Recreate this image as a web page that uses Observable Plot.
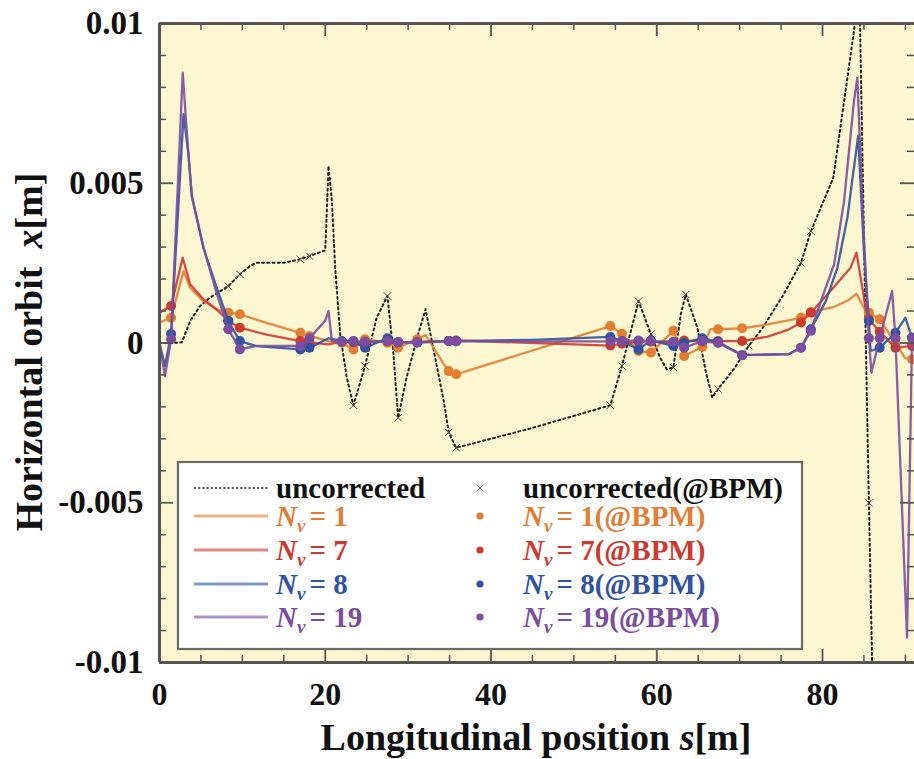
<!DOCTYPE html>
<html><head><meta charset="utf-8">
<script src="https://cdn.jsdelivr.net/npm/d3@7"></script>
<script src="https://cdn.jsdelivr.net/npm/@observablehq/plot@0.6"></script>
<style>html,body{margin:0;padding:0;background:#fff}#chart svg{display:block}</style>
</head><body><div id="chart"></div>
<script>
// ---- data (s in m, orbit values in mm) ----
const uncS = [0,1.4,2.7,3.7,4.9,6.1,8.3,9.7,10.9,11.7,15.0,17.0,18.1,20.0,20.4,20.8,21.2,21.8,22.6,23.4,24.8,26.2,27.5,28.2,28.8,29.8,31.1,32.1,33.1,34.3,34.9,35.8,44.7,54.4,55.8,57.8,59.3,60.4,61.2,62.0,62.9,63.5,64.9,65.9,66.7,67.4,69.3,71.1,72.7,75.3,77.4,78.6,81.3,83.0,83.8,84.2,84.5,85.4,85.6,86.0,86.4];
const uncX = [0,0,0.02,0.69,1.16,1.42,1.78,2.15,2.41,2.51,2.51,2.62,2.72,2.9,5.54,4.44,2.36,0.28,-1.09,-1.95,-0.72,0.79,1.47,-0.25,-2.34,-1.09,0.17,1.06,-0.25,-1.82,-2.8,-3.28,-2.68,-1.95,-0.72,1.31,0.28,-0.46,-0.82,-0.77,0.9,1.52,0.48,-0.88,-1.71,-1.44,-0.82,-0.09,0.44,1.52,2.51,3.5,5.17,8.3,9.77,10.8,10.4,-2.4,-5.0,-10.2,-13];
const uncBpmS = [8.3,9.7,17.0,18.1,23.4,24.8,27.5,28.8,34.9,35.8,54.4,55.8,57.8,59.3,62.0,63.5,67.4,71.1,77.4,78.6,85.6];
const uncBpmX = [1.78,2.15,2.62,2.72,-1.95,-0.72,1.47,-2.34,-2.8,-3.28,-1.95,-0.72,1.31,0.28,-0.77,1.52,-1.44,-0.09,2.51,3.5,-5.0];

const bpmS = [1.4,8.3,9.7,17.0,18.1,22.0,23.4,24.8,27.5,28.8,31.1,34.9,35.8,54.4,55.8,57.8,59.3,62.0,63.3,65.5,67.4,70.3,77.4,78.6,85.6,86.9,88.8,90.8];
const n1Bpm  = [0.79,0.95,0.90,0.32,0.22,0.01,-0.20,0.12,0.01,-0.15,0.12,-0.88,-0.98,0.53,0.29,-0.25,-0.30,0.38,-0.41,-0.12,0.43,0.46,0.79,0.97,0.95,0.74,0.0,-0.51];
const n7Bpm  = [1.16,0.69,0.48,0.06,0.01,0.04,0.02,0.03,0.06,0.02,0.04,0.06,0.08,-0.08,-0.02,0.04,0.04,0.02,0.08,0.05,0.06,0.06,0.64,0.95,0.74,0.35,-0.15,-0.09];
const n8Bpm  = [0.28,0.69,0.06,-0.20,-0.15,0.06,0.05,-0.15,0.15,0.02,0.01,0.06,0.06,0.19,0.06,-0.20,0.08,-0.09,0.0,0.15,0.04,-0.38,-0.15,0.43,0.69,-0.15,0.32,0.17];
const n19Bpm = [0.12,0.43,-0.20,-0.09,0.15,0.04,0.06,0.04,0.06,0.03,0.02,0.06,0.05,0.05,0.06,0.08,0.06,0.04,-0.15,0.06,0.0,-0.38,-0.15,0.38,0.15,0.15,0.15,0.15];

const n1LineS = [0,1.4,2.9,3.7,5.3,6.9,8.3,9.7,12.8,17.0,18.1,20.4,22.0,23.4,24.8,27.5,28.8,31.1,32.1,34.3,34.9,35.8,54.4,55.8,57.8,59.3,62.0,63.3,65.5,66.5,67.4,70.3,73.4,77.4,78.6,81.3,83.0,84.1,85.4,85.6,86.9,88.8,90.0,90.8,91.1];
const n1LineX = [0.64,0.79,2.25,1.73,1.31,1.05,0.95,0.90,0.64,0.32,0.22,0.06,0.01,-0.20,0.12,0.01,-0.15,0.12,0.25,-0.66,-0.88,-0.98,0.53,0.29,-0.25,-0.30,0.38,-0.41,-0.12,0.43,0.43,0.46,0.58,0.79,0.97,1.12,1.32,1.54,0.90,0.95,0.74,0.0,-0.48,-0.51,-0.51];
const n7LineS = [0,1.4,2.8,3.7,5.3,6.9,8.3,9.7,12.8,17.0,18.1,20.4,22.0,23.4,24.8,27.5,28.8,31.1,34.9,35.8,54.4,55.8,57.8,59.3,62.0,63.3,65.5,67.4,70.3,73.4,75.9,77.4,78.6,81.3,83.4,84.1,85.2,85.6,86.9,88.8,90.8,91.1];
const n7LineX = [0.95,1.16,2.67,1.84,1.37,1.05,0.69,0.48,0.27,0.06,0.01,-0.04,0.04,0.02,0.03,0.06,0.02,0.04,0.06,0.08,-0.08,-0.02,0.04,0.04,0.02,0.08,0.05,0.06,0.06,0.20,0.42,0.64,0.95,1.73,2.36,2.83,1.10,0.74,0.35,-0.15,-0.09,-0.09];
const n8LineS = [0,0.66,1.4,2.9,3.5,3.9,5.3,6.9,8.3,9.7,11.7,17.0,18.1,20.4,22.0,23.4,24.8,27.5,28.8,31.1,34.9,35.8,45.0,54.4,55.8,57.8,59.3,62.0,63.3,65.5,67.4,70.3,75.9,77.4,78.6,80.4,81.8,83.0,84.3,85.0,85.6,85.8,86.9,88.8,90.0,90.8,91.1];
const n8LineX = [0,-0.72,0.28,7.16,5.9,4.6,2.98,1.73,0.69,0.06,-0.1,-0.20,-0.15,0.15,0.06,0.05,-0.15,0.15,0.02,0.01,0.06,0.06,0.1,0.19,0.06,-0.20,0.08,-0.09,0.0,0.15,0.04,-0.38,-0.35,-0.15,0.43,1.31,2.36,3.92,6.48,2.88,0.69,-0.25,-0.15,0.32,0.79,0.17,0.06];
const n19LineS = [0,0.66,1.4,2.8,3.4,3.9,5.3,6.9,8.3,9.7,11.7,17.0,18.1,20.0,20.4,20.8,22.0,23.4,24.8,27.5,28.8,31.1,34.9,35.8,54.4,55.8,57.8,59.3,62.0,63.3,65.5,67.4,70.3,75.9,77.4,78.6,79.8,81.4,82.6,83.8,84.2,84.8,85.4,85.6,85.9,86.9,88.4,88.8,90.2,90.8,91.1];
const n19LineX = [0,-1.04,0.12,8.46,6.2,4.6,3.0,1.55,0.43,-0.20,-0.09,-0.09,0.15,0.7,1.0,0.06,0.04,0.06,0.04,0.06,0.03,0.02,0.06,0.05,0.05,0.06,0.08,0.06,0.04,-0.15,0.06,0.0,-0.38,-0.35,-0.15,0.38,1.31,2.46,4.44,7.57,8.3,4.44,1.1,0.15,-0.93,0.15,1.63,0.15,-9.22,0.15,0.15];

const seriesNames = ["1","7","8","19"];
const seriesColors = ["#e27d32","#cc3a30","#2f52a2","#7b4c9f"];

const xMajorTicks = [0,20,40,60,80];
const xMinorTicks = [5,10,15,25,30,35,45,50,55,65,70,75,85,90];
const yMajorTicks = [-10,-5,0,5,10];         // mm
const yMinorTicks = [-9,-8,-7,-6,-4,-3,-2,-1,1,2,3,4,6,7,8,9];
const yTickLabels = ["-0.01","-0.005","0","0.005","0.01"];

// ---- tables ----
const toRows = (S, X) => S.map((s, i) => ({s, x: X[i] * 1e-3}));
const unc = toRows(uncS, uncX);
const uncBpm = toRows(uncBpmS, uncBpmX);
const lines = [toRows(n1LineS, n1LineX), toRows(n7LineS, n7LineX), toRows(n8LineS, n8LineX), toRows(n19LineS, n19LineX)];
const bpms = [n1Bpm, n7Bpm, n8Bpm, n19Bpm].map(v => toRows(bpmS, v));
const yMaj = yMajorTicks.map(v => v * 1e-3), yMin = yMinorTicks.map(v => v * 1e-3);
const yLab = new Map(yMaj.map((v, i) => [v, yTickLabels[i]]));

const frameC = "#555";
const serieMarks = [];
lines.forEach((rows, k) => {
  serieMarks.push(Plot.line(rows, {x: "s", y: "x", stroke: seriesColors[k], strokeWidth: 2.3, strokeOpacity: 0.9, clip: true}));
  serieMarks.push(Plot.dot(bpms[k], {x: "s", y: "x", r: 5, fill: seriesColors[k], stroke: "none", clip: true}));
});

const chart = Plot.plot({
  width: 914, height: 759,
  marginLeft: 159, marginRight: 0, marginTop: 23, marginBottom: 97,
  x: {domain: [0, 91.1]},
  y: {domain: [-0.01, 0.01]},
  style: {fontFamily: "'Liberation Serif', 'DejaVu Serif', serif", background: "#fff", color: "#111"},
  marks: [
    Plot.frame({fill: "#fcf7d0", stroke: "none"}),
    Plot.line(unc, {x: "s", y: "x", stroke: "#222", strokeWidth: 2, strokeDasharray: "2,3.2", clip: true}),
    Plot.dot(uncBpm, {x: "s", y: "x", symbol: "times", r: 3.4, stroke: "#444", strokeWidth: 1, clip: true}),
    ...serieMarks,
    // frame lines
    Plot.ruleX([0], {stroke: frameC, strokeWidth: 3}),
    Plot.ruleY([0.01, -0.01], {stroke: frameC, strokeWidth: 3}),
    // inward ticks
    Plot.ruleX(xMinorTicks, {x: d => d, y1: -0.01, y2: -0.01, insetTop: -7, insetBottom: 0, stroke: frameC, strokeWidth: 1.5}),
    Plot.ruleX(xMajorTicks, {x: d => d, y1: -0.01, y2: -0.01, insetTop: -13, insetBottom: 0, stroke: frameC, strokeWidth: 1.8}),
    Plot.ruleX(xMinorTicks, {x: d => d, y1: 0.01, y2: 0.01, insetBottom: -7, insetTop: 0, stroke: frameC, strokeWidth: 1.5}),
    Plot.ruleX(xMajorTicks, {x: d => d, y1: 0.01, y2: 0.01, insetBottom: -13, insetTop: 0, stroke: frameC, strokeWidth: 1.8}),
    Plot.ruleY(yMin, {y: d => d, x1: 0, x2: 0, insetRight: -7, insetLeft: 0, stroke: frameC, strokeWidth: 1.5}),
    Plot.ruleY(yMaj, {y: d => d, x1: 0, x2: 0, insetRight: -14, insetLeft: 0, stroke: frameC, strokeWidth: 1.8}),
    Plot.ruleY(yMin, {y: d => d, x1: 91.1, x2: 91.1, insetLeft: -7, insetRight: 0, stroke: frameC, strokeWidth: 1.5}),
    Plot.ruleY(yMaj, {y: d => d, x1: 91.1, x2: 91.1, insetLeft: -14, insetRight: 0, stroke: frameC, strokeWidth: 1.8}),
    Plot.axisX({ticks: xMajorTicks, tickSize: 0, tickPadding: 20, fontSize: 32, fontWeight: "bold", label: null, fill: "#111"}),
    Plot.axisY({ticks: yMaj, tickFormat: d => yLab.get(d), tickSize: 0, tickPadding: 16, fontSize: 33, fontWeight: "bold", label: null, fill: "#111"})
  ]
});
document.getElementById("chart").appendChild(chart);

// ---- titles and legend (layout text) ----
const svg = d3.select(chart);
const ff = "'Liberation Serif', 'DejaVu Serif', serif";
// x title
const xt = svg.append("text").attr("x", 536).attr("y", 750).attr("text-anchor", "middle")
  .attr("font-family", ff).attr("font-size", 38).attr("font-weight", "bold").attr("fill", "#111");
xt.append("tspan").text("Longitudinal position ");
xt.append("tspan").attr("font-style", "italic").text("s");
xt.append("tspan").text("[m]");
// y title
const yt = svg.append("text").attr("transform", "translate(42,352) rotate(-90)").attr("text-anchor", "middle")
  .attr("font-family", ff).attr("font-size", 38).attr("font-weight", "bold").attr("fill", "#111");
yt.append("tspan").text("Horizontal orbit");
yt.append("tspan").attr("dx", 18).attr("font-style", "italic").text("x");
yt.append("tspan").text("[m]");

// legend
const lg = svg.append("g").attr("font-family", ff).attr("font-weight", "bold").attr("text-anchor", "start");
lg.append("rect").attr("x", 178).attr("y", 462).attr("width", 624).attr("height", 187)
  .attr("fill", "#fff").attr("stroke", "#6a6a6a").attr("stroke-width", 2.2);
const rowY = [488, 516, 550, 584, 617];
// uncorrected row
lg.append("line").attr("x1", 194).attr("x2", 268).attr("y1", rowY[0]).attr("y2", rowY[0])
  .attr("stroke", "#555").attr("stroke-width", 2).attr("stroke-dasharray", "2,2.2");
lg.append("text").attr("x", 276).attr("y", rowY[0] + 10).attr("text-anchor", "start").attr("font-size", 29).attr("fill", "#111").text("uncorrected");
lg.append("path").attr("d", `M${477},${rowY[0]-3}L${483},${rowY[0]+3}M${483},${rowY[0]-3}L${477},${rowY[0]+3}`)
  .attr("stroke", "#777").attr("stroke-width", 1);
lg.append("text").attr("x", 523).attr("y", rowY[0] + 10).attr("text-anchor", "start").attr("font-size", 29).attr("fill", "#111").text("uncorrected(@BPM)");
seriesNames.forEach((n, k) => {
  const y = rowY[k + 1], c = seriesColors[k];
  lg.append("line").attr("x1", 194).attr("x2", 268).attr("y1", y).attr("y2", y)
    .attr("stroke", c).attr("stroke-width", 3).attr("stroke-opacity", 0.6);
  const addLabel = (x, suffix) => {
    const t = lg.append("text").attr("x", x).attr("y", y + 10).attr("text-anchor", "start").attr("font-size", 29).attr("fill", c);
    t.append("tspan").attr("font-style", "italic").text("N");
    t.append("tspan").attr("font-style", "italic").attr("font-size", 19).attr("dy", 6).text("v");
    t.append("tspan").attr("dy", -6).attr("dx", 4).text("= " + n + suffix);
  };
  addLabel(276, "");
  lg.append("circle").attr("cx", 480).attr("cy", y).attr("r", 3.6).attr("fill", c);
  addLabel(523, "(@BPM)");
});
</script></body></html>
